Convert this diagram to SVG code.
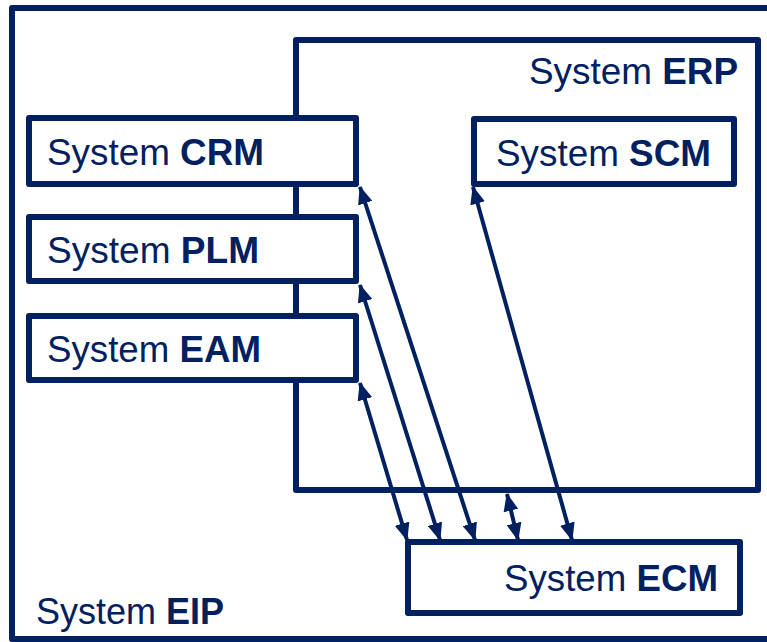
<svg xmlns="http://www.w3.org/2000/svg" width="767" height="642" viewBox="0 0 767 642">
<defs>
<style>
.box{fill:#fff;stroke:#002060;stroke-width:6;stroke-linejoin:round}
.lbl{font-family:"Liberation Sans",Arial,sans-serif;font-size:36px;fill:#002060}
.b{font-weight:bold}
.con{stroke:#002060;stroke-width:4;fill:none;marker-start:url(#ah);marker-end:url(#ah)}
</style>
<marker id="ah" viewBox="0 0 18 15" refX="17" refY="7.5" markerWidth="18" markerHeight="15" markerUnits="userSpaceOnUse" orient="auto-start-reverse">
<path d="M0,0 L18,7.5 L0,15 Z" fill="#002060"/>
</marker>
</defs>
<rect width="767" height="642" fill="#fff"/>
<g id="eip">
<rect class="box" x="12" y="8" width="800" height="631"/>
<text class="lbl" x="36" y="624" textLength="188" lengthAdjust="spacingAndGlyphs">System <tspan class="b">EIP</tspan></text>
</g>
<g id="erp">
<rect class="box" x="296" y="40" width="462" height="450"/>
<text class="lbl" x="529" y="84" textLength="209" lengthAdjust="spacingAndGlyphs">System <tspan class="b">ERP</tspan></text>
</g>
<g id="crm">
<rect class="box" x="29" y="118" width="327" height="66"/>
<text class="lbl" x="47" y="165" textLength="217" lengthAdjust="spacingAndGlyphs">System <tspan class="b">CRM</tspan></text>
</g>
<g id="plm">
<rect class="box" x="29" y="217" width="327" height="64"/>
<text class="lbl" x="47" y="263" textLength="212" lengthAdjust="spacingAndGlyphs">System <tspan class="b">PLM</tspan></text>
</g>
<g id="eam">
<rect class="box" x="29" y="316" width="327" height="64"/>
<text class="lbl" x="47" y="362" textLength="214" lengthAdjust="spacingAndGlyphs">System <tspan class="b">EAM</tspan></text>
</g>
<g id="scm">
<rect class="box" x="474" y="119" width="260" height="65"/>
<text class="lbl" x="496" y="166" textLength="215" lengthAdjust="spacingAndGlyphs">System <tspan class="b">SCM</tspan></text>
</g>
<g id="ecm">
<rect class="box" x="408" y="542" width="332" height="71"/>
<text class="lbl" x="504" y="591" textLength="214" lengthAdjust="spacingAndGlyphs">System <tspan class="b">ECM</tspan></text>
</g>
<g id="connectors">
<line class="con" x1="360" y1="187" x2="475" y2="540"/>
<line class="con" x1="360" y1="285" x2="440" y2="540"/>
<line class="con" x1="360" y1="383" x2="407" y2="540"/>
<line class="con" x1="507" y1="494" x2="518" y2="540"/>
<line class="con" x1="473" y1="187" x2="572" y2="540"/>
</g>
</svg>
